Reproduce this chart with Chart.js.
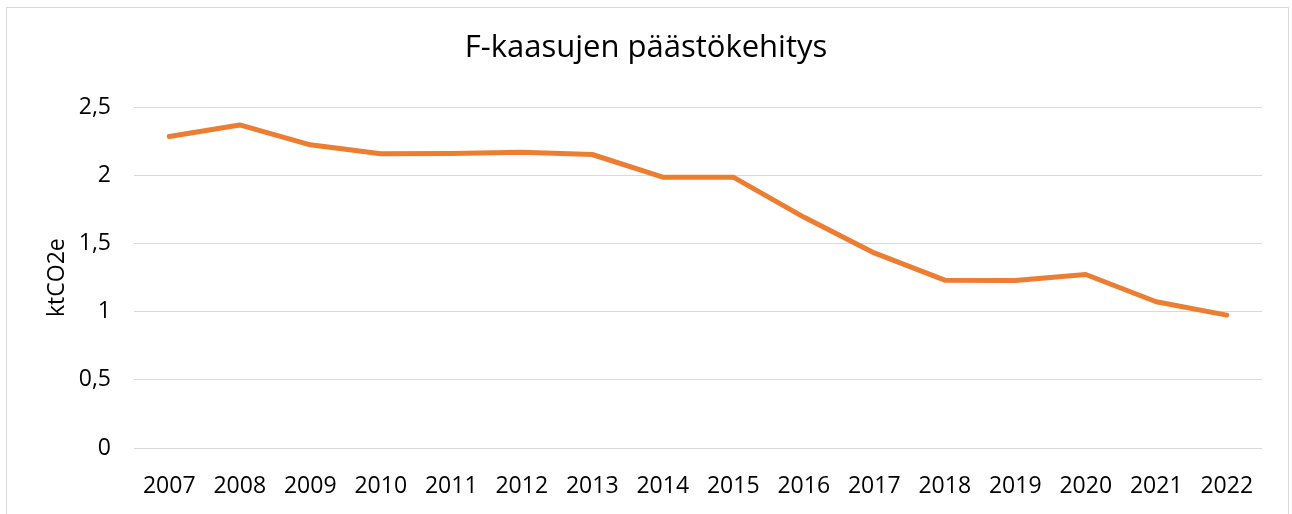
<!DOCTYPE html>
<html>
<head>
<meta charset="utf-8">
<script src="https://cdn.jsdelivr.net/npm/chart.js@4/dist/chart.umd.min.js"></script>
<style>
  html, body { margin: 0; padding: 0; background: #ffffff; overflow: hidden; }
  #frame { position: absolute; left: 6px; top: 7px; width: 1283px; height: 530px; border: 1px solid #d9d9d9; box-sizing: border-box; }
  #wrap { position: absolute; left: 0; top: 0; width: 1292px; height: 514px; }
</style>
</head>
<body>
<div id="frame"></div>
<div id="wrap"><canvas id="c" width="1292" height="514"></canvas></div>
<script>
const chartTitle = 'F-kaasujen päästökehitys';
const yAxisTitle = 'ktCO2e';
const years = ['2007','2008','2009','2010','2011','2012','2013','2014','2015','2016','2017','2018','2019','2020','2021','2022'];
const emissions = [2.285, 2.37, 2.224, 2.158, 2.16, 2.17, 2.153, 1.987, 1.987, 1.694, 1.431, 1.231, 1.228, 1.273, 1.073, 0.975];
const yTickValues = [0, 0.5, 1, 1.5, 2, 2.5];

const FONT = "'Open Sans', 'Liberation Sans', sans-serif";

new Chart(document.getElementById('c'), {
  type: 'line',
  data: {
    labels: years,
    datasets: [{
      label: 'F-kaasut',
      data: emissions,
      borderColor: '#ED7D31',
      backgroundColor: '#ED7D31',
      borderWidth: 5,
      pointRadius: 0,
      pointHoverRadius: 0,
      tension: 0,
      borderCapStyle: 'round',
      borderJoinStyle: 'round',
      fill: false
    }]
  },
  options: {
    responsive: false,
    animation: false,
    devicePixelRatio: 1,
    layout: { padding: { left: 30, right: 30, top: 0, bottom: 0 } },
    plugins: {
      legend: { display: false },
      tooltip: { enabled: false },
      title: {
        display: true,
        text: chartTitle,
        color: '#000000',
        font: { family: FONT, size: 31, weight: 'normal', lineHeight: 1.2 },
        padding: { top: 30, bottom: 40 }
      }
    },
    scales: {
      x: {
        type: 'category',
        offset: true,
        grid: { display: false, drawTicks: false },
        border: { display: false },
        ticks: {
          color: '#000000',
          font: { family: FONT, size: 23, lineHeight: 1.2 },
          padding: 25,
          maxRotation: 0,
          autoSkip: false
        },
        afterFit: (s) => { s.height = 66; }
      },
      y: {
        min: 0,
        max: 2.5,
        afterBuildTicks: (s) => { s.ticks = yTickValues.map(v => ({ value: v })); },
        grid: { color: '#d9d9d9', lineWidth: 1, drawTicks: false },
        border: { display: false },
        ticks: {
          color: '#000000',
          font: { family: FONT, size: 23, lineHeight: 1.2 },
          padding: 23,
          callback: (v) => String(v).replace('.', ',')
        },
        title: {
          display: true,
          text: yAxisTitle,
          color: '#000000',
          font: { family: FONT, size: 23, lineHeight: 1.2 },
          padding: { top: 14, bottom: 0 }
        },
        afterFit: (s) => { s.width = 104; }
      }
    }
  }
});
</script>
</body>
</html>
